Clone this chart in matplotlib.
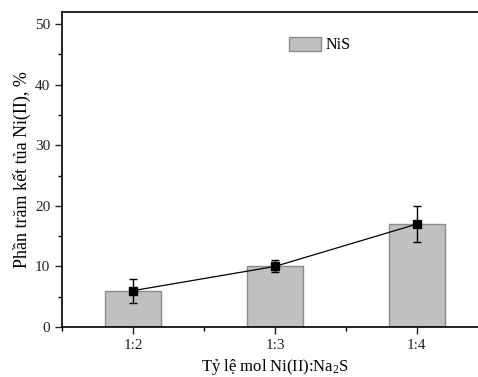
import numpy as np
import matplotlib
matplotlib.use('Agg')
from matplotlib import pyplot as plt
from matplotlib.ticker import MultipleLocator

# Ty le mol va phan tram ket tua
ty_le = ['1:2', '1:3', '1:4']
ket_tua = [6, 10, 17]
sai_so = [2, 1, 3]

plt.rcParams['font.family'] = ['Liberation Serif', 'DejaVu Serif']

fig = plt.figure(figsize=(4.78, 3.77), dpi=100)
ax = fig.add_axes([0.1297, 0.1326, 0.891, 0.8355])

x = np.arange(len(ty_le))
ax.bar(x, ket_tua, width=0.4, color='#c0c0c0', edgecolor='#8c8c8c', linewidth=1.0,
       label='NiS', zorder=2)
ax.errorbar(x, ket_tua, yerr=sai_so, color='black', linewidth=0.9, marker='s',
            markersize=5.5, capsize=3, elinewidth=1.0, capthick=1.0, zorder=3)

ax.set_xlim(-0.5, 2.5)
ax.set_ylim(0, 52)
ax.set_xticks(x)
ax.set_xticklabels(ty_le)
ax.xaxis.set_minor_locator(MultipleLocator(0.5))
ax.yaxis.set_major_locator(MultipleLocator(10))
ax.yaxis.set_minor_locator(MultipleLocator(5))
ax.tick_params(which='major', direction='out', length=5, width=1.0, labelsize=11, colors='#222222')
ax.tick_params(which='minor', direction='out', length=3, width=1.0)
for s in ax.spines.values():
    s.set_linewidth(1.2)

ax.set_xlabel('Tỷ lệ mol Ni(II):Na$\\mathregular{_2}$S', fontsize=12, labelpad=4)
ax.set_ylabel('Phần trăm kết tủa Ni(II), %', fontsize=13, labelpad=3)

ax.legend(loc='center left', bbox_to_anchor=(0.5, 0.895), frameon=False,
          fontsize=11.5, handlelength=2.0, handleheight=1.0, handletextpad=0.25)

fig.savefig('out.png', dpi=100)
